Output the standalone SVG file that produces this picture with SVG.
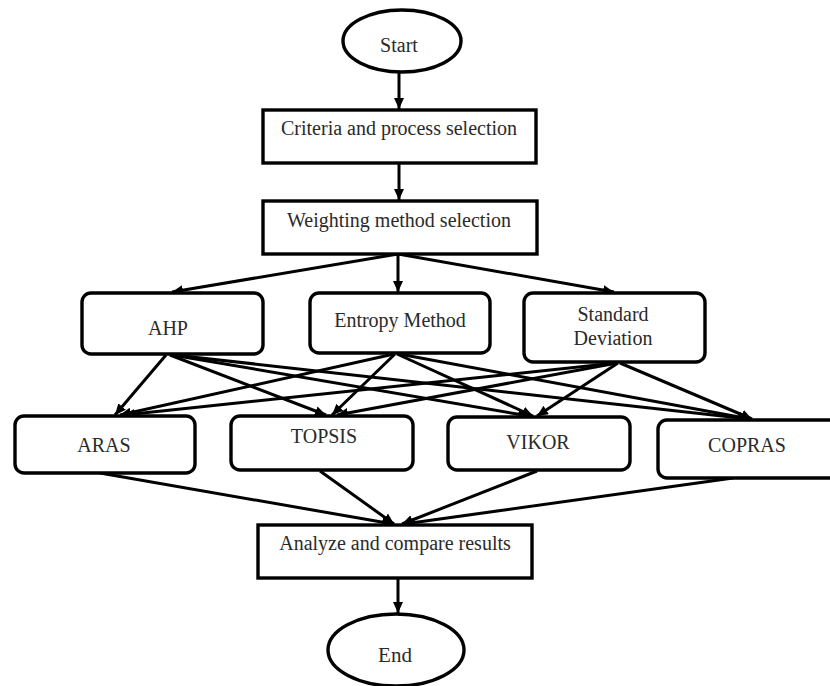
<svg xmlns="http://www.w3.org/2000/svg" width="830" height="686" viewBox="0 0 830 686">
<style>
.box{fill:#fff;stroke:#000;stroke-width:3.4}
.lbl{font-family:"Liberation Serif","Times New Roman",serif;font-size:20px;fill:#2a2a2a;text-anchor:middle}
.con{stroke:#000;stroke-width:3;fill:none;marker-end:url(#ah)}
</style>
<defs>
<marker id="ah" markerUnits="userSpaceOnUse" markerWidth="11" markerHeight="10" refX="11" refY="5" orient="auto">
<path d="M0,0 L11,5 L0,10 z" fill="#000"/>
</marker>
</defs>
<rect width="830" height="686" fill="#fff"/>
<g id="connectors">
<line class="con" x1="399" y1="73" x2="399" y2="109"/>
<line class="con" x1="399" y1="163" x2="399" y2="200"/>
<line class="con" x1="398" y1="254" x2="172" y2="292"/>
<line class="con" x1="398" y1="254" x2="398" y2="292"/>
<line class="con" x1="398" y1="254" x2="614" y2="292"/>
<line class="con" x1="166" y1="355" x2="115" y2="415"/>
<line class="con" x1="170" y1="355" x2="326" y2="415"/>
<line class="con" x1="172" y1="355" x2="529" y2="416"/>
<line class="con" x1="174" y1="355" x2="749" y2="419"/>
<line class="con" x1="394" y1="354" x2="120" y2="415"/>
<line class="con" x1="395" y1="354" x2="332" y2="415"/>
<line class="con" x1="397" y1="354" x2="533" y2="416"/>
<line class="con" x1="399" y1="354" x2="750" y2="419"/>
<line class="con" x1="616" y1="363" x2="124" y2="415"/>
<line class="con" x1="617" y1="363" x2="337" y2="415"/>
<line class="con" x1="618" y1="363" x2="537" y2="416"/>
<line class="con" x1="620" y1="363" x2="752" y2="419"/>
<line class="con" x1="100" y1="473" x2="393" y2="524"/>
<line class="con" x1="320" y1="471" x2="394" y2="524"/>
<line class="con" x1="537" y1="471" x2="402" y2="524"/>
<line class="con" x1="733" y1="478" x2="404" y2="524"/>
<line class="con" x1="398" y1="579" x2="398" y2="613"/>
</g>
<g id="start"><ellipse class="box" cx="402" cy="41" rx="59" ry="31"/><text class="lbl" x="399" y="52">Start</text></g>
<g id="criteria"><rect class="box" x="263" y="110" width="273" height="53"/><text class="lbl" x="399" y="135">Criteria and process selection</text></g>
<g id="weighting"><rect class="box" x="263" y="201" width="274" height="53"/><text class="lbl" x="399" y="227">Weighting method selection</text></g>
<g id="ahp"><rect class="box" x="82" y="293" width="181" height="61" rx="9"/><text class="lbl" x="168" y="335">AHP</text></g>
<g id="entropy"><rect class="box" x="310" y="293" width="180" height="60" rx="9"/><text class="lbl" x="400" y="327">Entropy Method</text></g>
<g id="stddev"><rect class="box" x="524" y="293" width="181" height="69" rx="9"/><text class="lbl" x="613" y="321">Standard</text><text class="lbl" x="613" y="345">Deviation</text></g>
<g id="aras"><rect class="box" x="15" y="416" width="180" height="57" rx="9"/><text class="lbl" x="104" y="452">ARAS</text></g>
<g id="topsis"><rect class="box" x="231" y="416" width="182" height="54" rx="9"/><text class="lbl" x="324" y="443">TOPSIS</text></g>
<g id="vikor"><rect class="box" x="448" y="417" width="182" height="53" rx="9"/><text class="lbl" x="538" y="449">VIKOR</text></g>
<g id="copras"><rect class="box" x="658" y="420" width="185" height="58" rx="9"/><text class="lbl" x="747" y="452">COPRAS</text></g>
<g id="analyze"><rect class="box" x="258" y="525" width="274" height="53"/><text class="lbl" x="395" y="550">Analyze and compare results</text></g>
<g id="end"><ellipse class="box" cx="396" cy="650" rx="68" ry="36"/><text class="lbl" x="395" y="662" style="font-size:21px">End</text></g>
</svg>
